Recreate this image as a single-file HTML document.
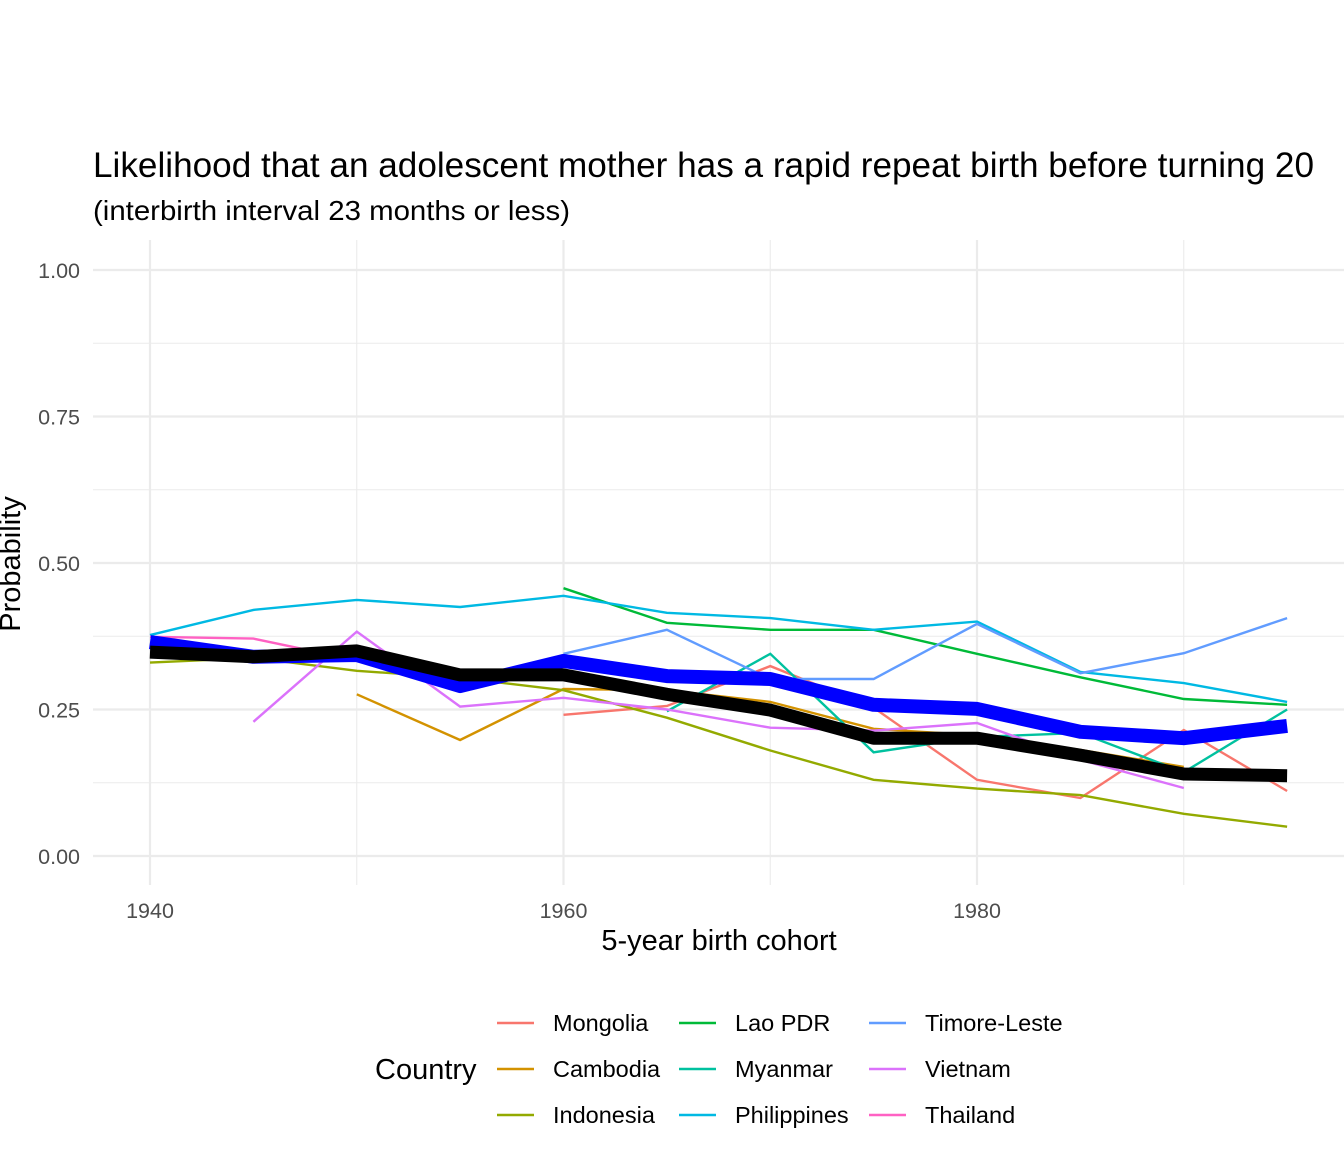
<!DOCTYPE html>
<html><head><meta charset="utf-8"><style>
body{margin:0;background:#fff;font-family:"Liberation Sans",sans-serif;}
svg text{font-family:"Liberation Sans",sans-serif;}
</style></head><body>
<svg id="chart" width="1344" height="1152" viewBox="0 0 1344 1152" xmlns="http://www.w3.org/2000/svg">
<rect width="1344" height="1152" fill="#fff"/>
<text x="93" y="177" font-size="35" textLength="1221" lengthAdjust="spacingAndGlyphs" fill="#000">Likelihood that an adolescent mother has a rapid repeat birth before turning 20</text>
<text x="93" y="220" font-size="28" textLength="477" lengthAdjust="spacingAndGlyphs" fill="#000">(interbirth interval 23 months or less)</text>
<g id="grid"></g>
<g id="series"></g>
<g id="axes"></g>
<text x="719" y="950" font-size="29" text-anchor="middle">5-year birth cohort</text>
<text transform="translate(20,564) rotate(-90)" font-size="29" text-anchor="middle">Probability</text>
<g id="legend"></g>
</svg>
<script>
const years=[1940,1945,1950,1955,1960,1965,1970,1975,1980,1985,1990,1995];
const countries=["Mongolia","Cambodia","Indonesia","Lao PDR","Myanmar","Philippines","Timore-Leste","Vietnam","Thailand"];
const colors=["#F8766D","#D39200","#93AA00","#00BA38","#00C19F","#00B9E3","#619CFF","#DB72FB","#FF61C3"];
const mongolia=[null,null,null,null,0.241,0.256,0.324,0.253,0.13,0.099,0.215,0.111];
const cambodia=[null,null,0.276,0.198,0.285,0.283,0.263,0.217,0.206,0.181,0.152,null];
const indonesia=[0.33,0.338,0.316,0.304,0.283,0.236,0.18,0.13,0.115,0.104,0.072,0.05];
const lao=[null,null,null,null,0.457,0.398,0.386,0.386,0.345,0.305,0.268,0.258];
const myanmar=[null,null,null,null,null,0.247,0.345,0.177,0.203,0.21,0.143,0.25];
const philippines=[0.377,0.42,0.437,0.425,0.444,0.415,0.406,0.386,0.40,0.314,0.295,0.263];
const timor=[null,null,null,null,0.345,0.386,0.302,0.302,0.396,0.312,0.346,0.406];
const vietnam=[null,0.229,0.383,0.255,0.27,0.25,0.219,0.214,0.227,0.164,0.116,null];
const thailand=[0.374,0.371,0.334,null,null,null,null,null,null,null,null,null];
const regionalMean=[0.365,0.34,0.343,0.29,0.333,0.307,0.302,0.258,0.251,0.212,0.201,0.222];
const overallMean=[0.348,0.34,0.35,0.309,0.309,0.276,0.249,0.201,0.201,0.172,0.14,0.137];
const yTicks=[0,0.25,0.5,0.75,1.0];
const yTickLabels=["0.00","0.25","0.50","0.75","1.00"];
const xTicks=[1940,1960,1980];
const xMinor=[1950,1970,1990];
const seriesData=[mongolia,cambodia,indonesia,lao,myanmar,philippines,timor,vietnam,thailand];
const NS="http://www.w3.org/2000/svg";
const X=y=>150+(y-1940)*(977-150)/40;
const Y=v=>856-v*586;
function mk(tag,attrs,parent){const e=document.createElementNS(NS,tag);for(const k in attrs)e.setAttribute(k,attrs[k]);parent.appendChild(e);return e;}
const grid=document.getElementById('grid'),ser=document.getElementById('series'),axes=document.getElementById('axes'),leg=document.getElementById('legend');
for(let v=0;v<=1.0001;v+=0.125){const l=mk('line',{x1:93,x2:1344,y1:Y(v),y2:Y(v),stroke:'#ebebeb','stroke-width':Math.abs(v*4-Math.round(v*4))<0.01?2.2:1.1},grid);

}
xTicks.forEach(t=>{const l=mk('line',{x1:X(t),x2:X(t),y1:240,y2:885,stroke:'#ebebeb','stroke-width':2.2},grid);

});
xMinor.forEach(t=>{const l=mk('line',{x1:X(t),x2:X(t),y1:240,y2:885,stroke:'#ebebeb','stroke-width':1.1},grid);

});
yTicks.forEach((v,i)=>{const t=mk('text',{x:80,y:Y(v)+8,'font-size':21.5,fill:'#4d4d4d','text-anchor':'end'},axes);t.textContent=yTickLabels[i];

});
xTicks.forEach(v=>{const t=mk('text',{x:X(v),y:918,'font-size':21.5,fill:'#4d4d4d','text-anchor':'middle'},axes);t.textContent=v;

});
function path(arr){let d='',pen=false;arr.forEach((v,i)=>{if(v==null){pen=false;return;}d+=(pen?'L':'M')+X(years[i]).toFixed(1)+','+Y(v).toFixed(1);pen=true;});return d;}
seriesData.forEach((arr,i)=>{const p=mk('path',{d:path(arr),fill:'none',stroke:colors[i],'stroke-width':2.4},ser);

});
const pb=mk('path',{d:path(regionalMean),fill:'none',stroke:'#0000ff','stroke-width':14,'stroke-linejoin':'round'},ser);


const pk=mk('path',{d:path(overallMean),fill:'none',stroke:'#000','stroke-width':13,'stroke-linejoin':'round'},ser);


const lt=mk('text',{x:375,y:1079,'font-size':29},leg);lt.textContent='Country';


const colX=[497,679,869],rowY=[1023,1069,1115];
countries.forEach((c,i)=>{const col=Math.floor(i/3),row=i%3;
const g=mk('g',{},leg);


mk('line',{x1:colX[col],x2:colX[col]+37,y1:rowY[row],y2:rowY[row],stroke:colors[i],'stroke-width':2.5},g);
const t=mk('text',{x:colX[col]+56,y:rowY[row]+8,'font-size':23.5},g);t.textContent=c;});
</script>
</body></html>
